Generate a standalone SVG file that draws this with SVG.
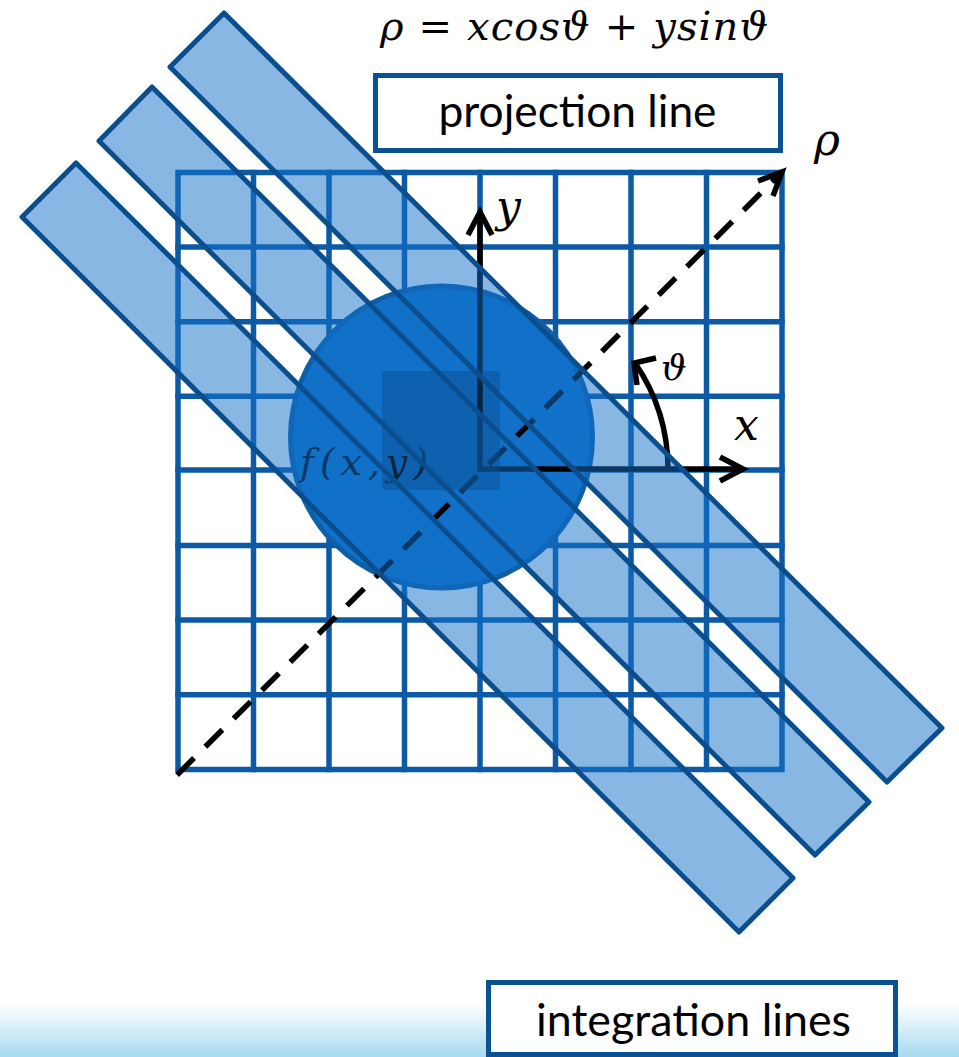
<svg xmlns="http://www.w3.org/2000/svg" width="959" height="1057" viewBox="0 0 959 1057">
<defs>
<linearGradient id="bg" x1="0" y1="0" x2="0" y2="1">
<stop offset="0" stop-color="#ffffff"/>
<stop offset="1" stop-color="#a6daf0"/>
</linearGradient>
<style>
.grid{fill:none;stroke:#0c5aa6;stroke-width:5.5;stroke-linecap:square}
.stripfill{fill:#1170c8;fill-opacity:0.5;stroke:none}
.stripline{fill:none;stroke:#0a4e8e;stroke-width:5;stroke-linejoin:round}
.ax{fill:none;stroke:#000;stroke-width:5.5;stroke-linejoin:miter}
.box{fill:#fff;stroke:#0b5294;stroke-width:5}
.math{font-family:"DejaVu Serif","Liberation Serif",serif;font-style:italic;fill:#000}
.up{font-style:normal}
.lbl{font-family:Lato,"Open Sans","Liberation Sans",sans-serif;font-size:44px;fill:#000;text-anchor:middle}
</style>
</defs>
<rect x="0" y="1004" width="959" height="53" fill="url(#bg)"/>

<g id="grid">
<rect class="grid" x="178" y="172.5" width="604" height="597"/>
<path class="grid" d="M253.5,172.5V769.5M329,172.5V769.5M404.5,172.5V769.5M480,172.5V769.5M555.5,172.5V769.5M631,172.5V769.5M706.5,172.5V769.5M178,247.1H782M178,321.7H782M178,396.3H782M178,470H782M178,545.5H782M178,620.1H782M178,694.7H782"/>
</g>

<g id="object">
<circle cx="441.5" cy="437" r="151" fill="#1170c8" stroke="#0e5faa" stroke-width="5"/>
</g>

<g id="connectors">
<path class="ax" d="M480,471V213"/>
<polyline class="ax" points="468,235 480,212 492,235"/>
<path class="ax" d="M478,469H742"/>
<polyline class="ax" points="720,457 743,469 720,481"/>
<path class="ax" d="M177,775L779,175" stroke-dasharray="24 16"/>
<polyline class="ax" points="758,181 782,172 773,196"/>
<path class="ax" d="M668,469A188,188 0 0,0 635,363"/>
<polyline class="ax" points="656,358 634,363 637,385"/>
</g>

<text id="fxy" class="math" x="300" y="475" font-size="38" textLength="128" lengthAdjust="spacing">f(x,y)</text>

<g id="strips">
<polygon class="stripfill" points="224,13 942,728 887,782 170,67"/>
<polygon class="stripfill" points="152,87 869,802 815,855 99,141"/>
<polygon class="stripfill" points="76,163 793,878 739,932 22,217"/>
<rect x="382" y="371" width="118" height="119" rx="3" fill="#0a4f8f" fill-opacity="0.45"/>
<polygon class="stripline" points="224,13 942,728 887,782 170,67"/>
<polygon class="stripline" points="152,87 869,802 815,855 99,141"/>
<polygon class="stripline" points="76,163 793,878 739,932 22,217"/>
</g>

<g id="labels">
<text class="math" x="380" y="40" font-size="40" textLength="388" lengthAdjust="spacing">ρ <tspan class="up">=</tspan> xcosϑ <tspan class="up">+</tspan> ysinϑ</text>
<text class="math" x="814" y="155" font-size="44">ρ</text>
<text class="math" x="496" y="222" font-size="44">y</text>
<text class="math" x="734" y="440" font-size="44">x</text>
<text class="math" x="661" y="380" font-size="36">ϑ</text>
</g>

<g id="projection-line">
<rect class="box" x="375.5" y="75.5" width="405" height="75"/>
<text class="lbl" x="577.5" y="127" textLength="278" lengthAdjust="spacingAndGlyphs">projection line</text>
</g>

<g id="integration-lines">
<rect class="box" x="488.5" y="982.5" width="407" height="72"/>
<text class="lbl" x="693.5" y="1036" textLength="315" lengthAdjust="spacingAndGlyphs">integration lines</text>
</g>
</svg>
